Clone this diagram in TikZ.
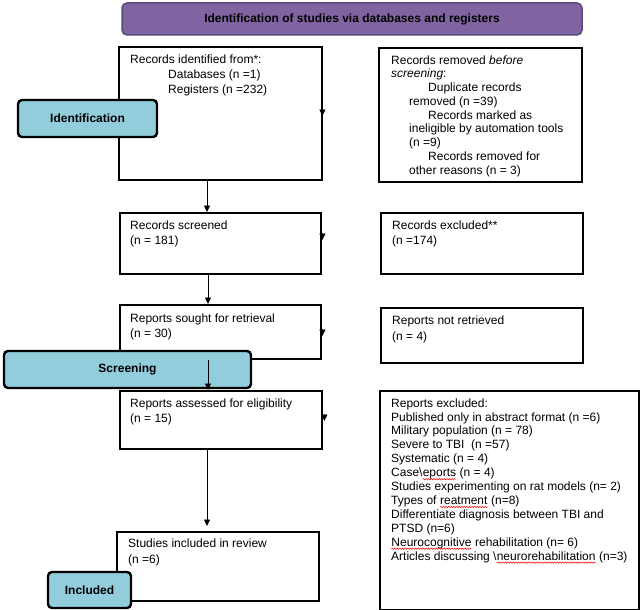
\documentclass[tikz,border=0pt]{standalone}
\usepackage{fontspec}
\setmainfont{Liberation Sans}
\usetikzlibrary{arrows.meta,calc,decorations.pathmorphing}
\definecolor{hdrfill}{HTML}{8064A2}
\definecolor{hdrdraw}{HTML}{5B4A78}
\definecolor{phasefill}{HTML}{92CDDC}
\newcommand\redwave[1]{\tikz[x=1pt,y=1pt,baseline=(w.base)]{\node[inner sep=0pt,outer sep=0pt,anchor=base,draw=none,fill=none](w){#1};\draw[red,line width=0.5pt,decorate,decoration={snake,amplitude=0.7pt,segment length=2.6pt}] ($(w.base west)+(0,-2.6)$) -- ($(w.base east)+(0,-2.6)$);}}
\begin{document}
\begin{tikzpicture}[x=1pt,y=-1pt,
  box/.style={draw=black, line width=2.4pt, fill=white, inner sep=0pt, anchor=north west},
  phase/.style={draw=black, line width=2.4pt, fill=phasefill, rounded corners=4pt, inner sep=0pt, font=\bfseries\fontsize{12}{14}\selectfont},
  txt/.style={inner sep=0pt, anchor=base west, align=left, font=\fontsize{12}{14}\selectfont},
  arr/.style={line width=0.8pt, -{Triangle[length=6.5pt,width=6pt]}},
  edgetip/.style={line width=0.8pt, -{Triangle[length=6.5pt,width=6pt]}}]
\useasboundingbox (0,0) rectangle (643,610);
\fill[white] (0,0) rectangle (643,610);

% header
\node[draw=hdrdraw, fill=hdrfill, line width=1.5pt, rounded corners=5pt, minimum width=460pt, minimum height=32pt, inner sep=0pt, font=\bfseries\fontsize{12}{14}\selectfont] (hdr) at (352,19) {Identification of studies via databases and registers};

% left column boxes
\node[box, minimum width=203pt, minimum height=133pt] (b1) at (118,46) {};
\node[box, minimum width=201pt, minimum height=61pt] (scr) at (119,212) {};
\node[box, minimum width=201pt, minimum height=54pt] (sou) at (119,304) {};
\node[box, minimum width=202pt, minimum height=58pt] (ass) at (119,390) {};
\node[box, minimum width=202pt, minimum height=69pt] (stu) at (116,531) {};

% right column boxes
\node[box, minimum width=203pt, minimum height=134pt] (r1) at (378,47) {};
\node[box, minimum width=202pt, minimum height=61pt] (exc) at (380,212) {};
\node[box, minimum width=202pt, minimum height=55pt] (nr) at (380,307) {};
\node[box, minimum width=259pt, minimum height=219pt] (rex) at (379,390) {};

% texts (anchor = baseline of the last line)
\node[txt, font=\fontsize{12}{14.5}\selectfont] (tb1) at (130,93) {Records identified from*:\\\hspace*{38pt}Databases (n =1)\\\hspace*{38pt}Registers (n =232)};
\begin{scope}
\clip (r1.north west) rectangle ($(r1.south east)+(0,-7)$);
\node[txt, font=\fontsize{12}{13.75}\selectfont] (tr1) at (391,174) {Records removed \textit{before}\\\textit{screening}:\\\hspace*{37pt}Duplicate records\\\hspace*{18pt}removed (n =39)\\\hspace*{37pt}Records marked as\\\hspace*{18pt}ineligible by automation tools\\\hspace*{18pt}(n =9)\\\hspace*{37pt}Records removed for\\\hspace*{18pt}other reasons (n = 3)};
\end{scope}
\node[txt, font=\fontsize{12}{15}\selectfont] (tscr) at (130,244.5) {Records screened\\(n = 181)};
\node[txt, font=\fontsize{12}{15}\selectfont] (texc) at (392,244.5) {Records excluded**\\(n =174)};
\node[txt, font=\fontsize{12}{15}\selectfont] (tsou) at (130,337) {Reports sought for retrieval\\(n = 30)};
\node[txt, font=\fontsize{12}{15.5}\selectfont] (tnr) at (392,340) {Reports not retrieved\\(n = 4)};
\node[txt, font=\fontsize{12}{15}\selectfont] (tass) at (130,422) {Reports assessed for eligibility\\(n = 15)};
\node[txt, font=\fontsize{12}{16}\selectfont] (tstu) at (128,563) {Studies included in review\\(n =6)};
\node[txt, font=\fontsize{12}{13.9}\selectfont] (trex) at (391,560) {Reports excluded:\\Published only in abstract format (n =6)\\Military population (n = 78)\\Severe to TBI\ \ (n =57)\\Systematic (n = 4)\\Case\textbackslash\redwave{eports} (n = 4)\\Studies experimenting on rat models (n= 2)\\Types of \redwave{reatment} (n=8)\\Differentiate diagnosis between TBI and\\PTSD (n=6)\\\redwave{Neurocognitive} rehabilitation (n= 6)\\Articles discussing \textbackslash\redwave{neurorehabilitation} (n=3)};

% phase labels
\node[phase, minimum width=139pt, minimum height=37pt] (pid) at (87.5,118.5) {Identification};
\node[phase, minimum width=247pt, minimum height=37pt] (psc) at (127.5,369.5) {Screening};
\node[phase, minimum width=83pt, minimum height=36pt] (pin) at (89.5,590) {Included};

% connectors
\coordinate (xa) at (207,0);
\coordinate (xb) at (208,0);
\draw[arr] (b1.south -| xa) -- (scr.north -| xa);
\draw[arr] (scr.south -| xb) -- (sou.north -| xb);
\draw[arr] (sou.south -| xb) -- (ass.north -| xb);
\draw[arr, shorten >=5pt] (ass.south -| xa) -- (stu.north -| xa);

% stray arrow tips on right edges
\draw[edgetip] ($(b1.north east)+(-1,63)$) -- ++(0,7);
\draw[edgetip] ($(scr.north east)+(0,21)$) -- ++(0,7);
\draw[edgetip] ($(sou.north east)+(0,25)$) -- ++(0,7);
\draw[edgetip] ($(ass.north east)+(1,24)$) -- ++(0,7);
\end{tikzpicture}
\end{document}
